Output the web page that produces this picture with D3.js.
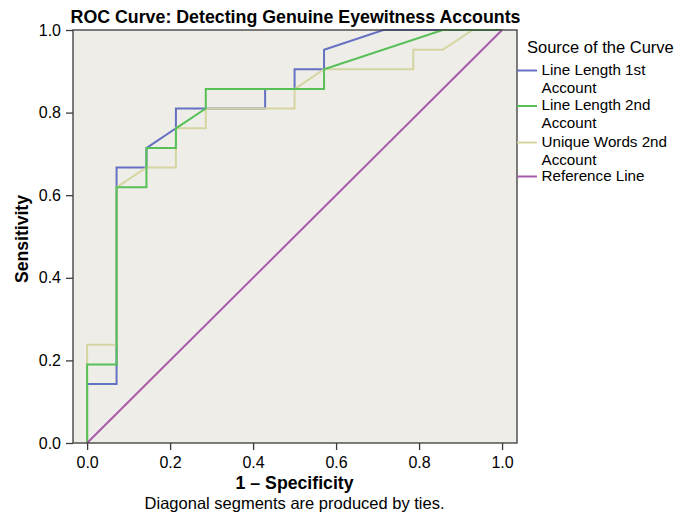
<!DOCTYPE html>
<html>
<head>
<meta charset="utf-8">
<script src="https://cdn.jsdelivr.net/npm/d3@7/dist/d3.min.js"></script>
<style>
  html, body { margin: 0; padding: 0; background: #ffffff; }
  svg { display: block; font-family: "Liberation Sans", Arial, Helvetica, sans-serif; }
</style>
</head>
<body>
<svg id="chart" width="689" height="515"></svg>
<script>
// ---- Data ----
const seriesNames = ["Line Length 1st Account", "Line Length 2nd Account", "Unique Words 2nd Account", "Reference Line"];
const legendLines = [["Line Length 1st", "Account"], ["Line Length 2nd", "Account"], ["Unique Words 2nd", "Account"], ["Reference Line"]];

const blueFPR = [0, 0, 0.071, 0.071, 0.143, 0.143, 0.214, 0.214, 0.429, 0.429, 0.5, 0.5, 0.571, 0.571, 0.714, 1];
const blueTPR = [0, 0.143, 0.143, 0.667, 0.667, 0.714, 0.762, 0.810, 0.810, 0.857, 0.857, 0.905, 0.905, 0.952, 1, 1];

const greenFPR = [0, 0, 0.071, 0.071, 0.143, 0.143, 0.214, 0.214, 0.286, 0.286, 0.571, 0.571, 0.857, 1];
const greenTPR = [0, 0.190, 0.190, 0.619, 0.619, 0.714, 0.714, 0.762, 0.810, 0.857, 0.857, 0.905, 1, 1];

const khakiFPR = [0, 0, 0.071, 0.071, 0.143, 0.214, 0.214, 0.286, 0.286, 0.5, 0.5, 0.571, 0.786, 0.786, 0.857, 0.929, 1];
const khakiTPR = [0, 0.238, 0.238, 0.619, 0.667, 0.667, 0.762, 0.762, 0.810, 0.810, 0.857, 0.905, 0.905, 0.952, 0.952, 1, 1];

const refFPR = [0, 1];
const refTPR = [0, 1];

const tickValues = [0.0, 0.2, 0.4, 0.6, 0.8, 1.0];
const colors = ["#6571c2", "#57c057", "#d6d5a2", "#a95aab"];

// ---- Layout ----
const svg = d3.select("#chart");
const plotLeft = 73, plotRight = 517, plotTop = 30, plotBottom = 443;

const x = d3.scaleLinear().domain([-0.034, 1.036]).range([plotLeft, plotRight]);
const y = d3.scaleLinear().domain([0, 1]).range([plotBottom, plotTop]);

// plot background
svg.append("rect")
  .attr("x", plotLeft).attr("y", plotTop)
  .attr("width", plotRight - plotLeft).attr("height", plotBottom - plotTop)
  .attr("fill", "#eeede8");

const line = d3.line().x(d => x(d[0])).y(d => y(d[1]));
const zip = (a, b) => a.map((v, i) => [v, b[i]]);

const series = [
  { pts: zip(blueFPR, blueTPR), color: colors[0] },
  { pts: zip(khakiFPR, khakiTPR), color: colors[2] },
  { pts: zip(greenFPR, greenTPR), color: colors[1] },
  { pts: zip(refFPR, refTPR), color: colors[3] }
];

svg.append("g").selectAll("path").data(series).join("path")
  .attr("d", d => line(d.pts))
  .attr("fill", "none")
  .attr("stroke", d => d.color)
  .attr("stroke-width", 2)
  .attr("stroke-linejoin", "miter");

// frame
svg.append("rect")
  .attr("x", plotLeft).attr("y", plotTop)
  .attr("width", plotRight - plotLeft).attr("height", plotBottom - plotTop)
  .attr("fill", "none").attr("stroke", "#3a3a3a").attr("stroke-width", 1.3);

// axes
const xAxis = d3.axisBottom(x).tickValues(tickValues).tickFormat(d3.format(".1f")).tickSize(7).tickPadding(7);
const yAxis = d3.axisLeft(y).tickValues(tickValues).tickFormat(d3.format(".1f")).tickSize(7).tickPadding(5);

const gx = svg.append("g").attr("transform", `translate(0,${plotBottom})`).call(xAxis);
const gy = svg.append("g").attr("transform", `translate(${plotLeft},0)`).call(yAxis);
[gx, gy].forEach(g => {
  g.select(".domain").remove();
  g.selectAll(".tick line").attr("stroke", "#3a3a3a").attr("stroke-width", 1.3);
  g.selectAll(".tick text").attr("fill", "#000").style("font-size", "16px")
    .style("font-family", "'Liberation Sans', Arial, sans-serif");
});

// titles
svg.append("text")
  .attr("x", 295.5).attr("y", 23)
  .attr("text-anchor", "middle")
  .style("font-size", "17.8px").style("font-weight", "bold")
  .text("ROC Curve: Detecting Genuine Eyewitness Accounts");

svg.append("text")
  .attr("x", x(0.5)).attr("y", 489)
  .attr("text-anchor", "middle")
  .style("font-size", "17.7px").style("font-weight", "bold")
  .text("1 \u2013 Specificity");

svg.append("text")
  .attr("x", x(0.5)).attr("y", 509)
  .attr("text-anchor", "middle")
  .style("font-size", "16.5px")
  .text("Diagonal segments are produced by ties.");

svg.append("text")
  .attr("transform", `translate(28,239) rotate(-90)`)
  .attr("text-anchor", "middle")
  .style("font-size", "17.6px").style("font-weight", "bold")
  .text("Sensitivity");

// legend
const lg = svg.append("g");
lg.append("text").attr("x", 527).attr("y", 52.5).style("font-size", "16.5px").text("Source of the Curve");
const itemY = [70.5, 106, 142.5, 176.5];
legendLines.forEach((lines, i) => {
  lg.append("line")
    .attr("x1", 517).attr("x2", 537)
    .attr("y1", itemY[i]).attr("y2", itemY[i])
    .attr("stroke", colors[i]).attr("stroke-width", 2);
  lines.forEach((t, j) => {
    lg.append("text")
      .attr("x", 541.5).attr("y", itemY[i] + 4 + j * 18)
      .style("font-size", "15.2px")
      .text(t);
  });
});
</script>
</body>
</html>
